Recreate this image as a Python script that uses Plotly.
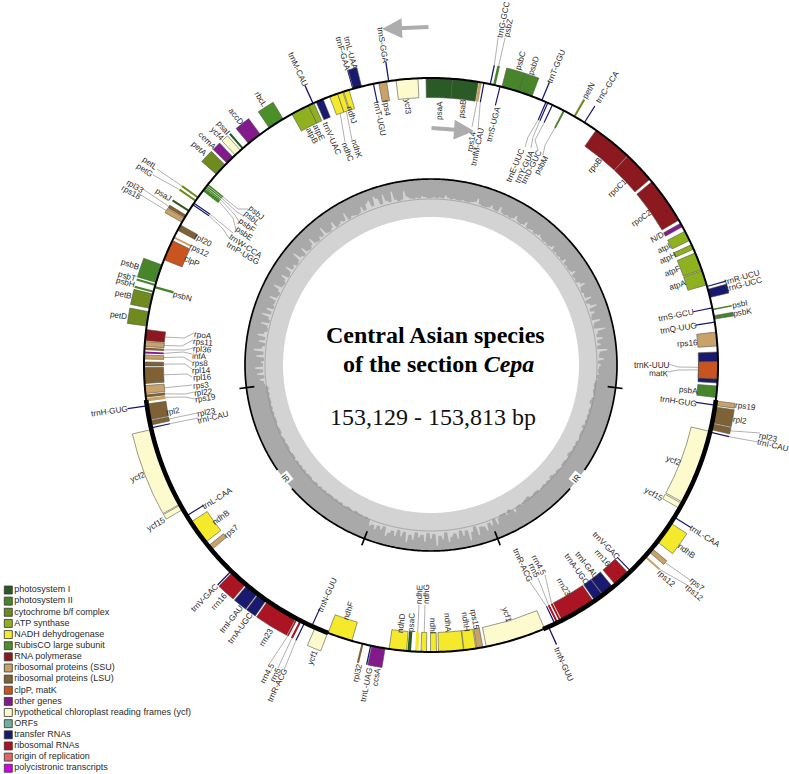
import math
import numpy as np
import plotly.graph_objects as go

W, H = 789, 774
CX, CY = 431, 365
R_MAP, R_GC, R_MID, R_HOLE = 287, 186, 166, 148
GENE_H = 19.5

# ---------- data: gene positions on the map, in degrees clockwise from the top ----------
psI_names = ["psaA", "psaB", "psaC", "psaI", "psaJ"]
psI_start = [-1.0, 4.3, 184.0, 318.8, 302.3]
psI_end = [4.3, 9.5, 184.7, 319.2, 302.7]
psI_side = [-1, -1, -1, 1, 1]

psII_names = ["psbC", "psbD", "psbZ", "psbM", "psbI", "psbK", "psbA", "psbB", "psbT", "psbH", "psbN", "psbE", "psbF", "psbL", "psbJ"]
psII_start = [14.3, 17.8, 12.5, 27.4, 78.7, 80.1, 94.2, 286.7, 286.0, 284.6, 285.5, 307.3, 308.05, 308.4, 308.8]
psII_end = [17.8, 20.6, 13.0, 27.8, 79.0, 80.8, 96.5, 290.4, 286.4, 285.0, 286.0, 308.0, 308.3, 308.7, 309.1]
psII_side = [1, 1, 1, -1, 1, 1, -1, 1, 1, 1, -1, -1, -1, -1, -1]

cyt_names = ["petD", "petB", "petA", "petN", "petG", "petL"]
cyt_start = [277.8, 281.4, 311.6, 29.8, 304.7, 305.5]
cyt_end = [280.7, 284.3, 314.2, 30.2, 305.1, 305.9]
cyt_side = [1, 1, 1, 1, 1, 1]

atp_names = ["atpB", "atpE", "atpI", "atpH", "atpF", "atpA"]
atp_start = [331.0, 334.7, 62.2, 65.2, 67.0, 70.8]
atp_end = [334.7, 335.9, 64.3, 66.2, 70.6, 73.8]
atp_side = [-1, -1, -1, -1, -1, -1]

ndh_names = ["ndhB", "ndhB", "ndhF", "ndhD", "ndhE", "ndhG", "ndhI", "ndhA", "ndhH", "ndhC", "ndhK", "ndhJ"]
ndh_start = [123.4, 231.8, 196.0, 184.9, 182.5, 180.9, 178.9, 173.5, 171.0, 339.3, 341.0, 342.3]
ndh_end = [128.0, 236.8, 201.0, 188.4, 183.2, 182.0, 180.1, 178.5, 173.4, 341.0, 342.1, 343.4]
ndh_side = [1, -1, -1, -1, -1, -1, -1, -1, -1, -1, -1, -1]

rbc_names = ["rbcL"]
rbc_start = [325.7]
rbc_end = [329.0]
rbc_side = [1]

rpo_names = ["rpoB", "rpoC1", "rpoC2", "rpoA"]
rpo_start = [35.1, 43.3, 50.3, 274.9]
rpo_end = [43.2, 49.7, 59.7, 277.1]
rpo_side = [-1, -1, -1, -1]

ssu_names = ["rps4", "rps14", "rps16", "rps19", "rps19", "rps7", "rps12", "rps7", "rps15", "rps11", "rps8", "rps3", "rps12", "rps18"]
ssu_start = [349.5, 9.6, 83.4, 97.2, 262.7, 129.7, 131.6, 229.9, 169.6, 273.7, 271.2, 264.3, 296.2, 299.8]
ssu_end = [351.1, 10.2, 86.2, 98.1, 263.4, 130.6, 132.0, 230.9, 170.8, 274.7, 272.0, 265.9, 296.6, 300.7]
ssu_side = [-1, -1, -1, 1, -1, 1, 1, -1, -1, -1, -1, -1, -1, 1]

lsu_names = ["rpl2", "rpl23", "rpl2", "rpl23", "rpl22", "rpl16", "rpl14", "rpl36", "rpl20", "rpl33", "rpl32"]
lsu_start = [98.4, 101.8, 259.0, 257.9, 263.5, 266.3, 269.8, 273.0, 298.0, 300.8, 193.6]
lsu_end = [101.6, 103.0, 262.2, 258.8, 264.1, 269.5, 270.6, 273.5, 299.2, 301.5, 194.0]
lsu_side = [1, 1, -1, -1, -1, -1, -1, -1, -1, 1, 1]

clp_names = ["clpP", "matK"]
clp_start = [291.5, 89.3]
clp_end = [295.7, 92.8]
clp_side = [-1, -1]

other_names = ["ccsA", "accD", "cemA", "infA", "N/D"]
other_start = [189.2, 320.5, 314.7, 272.3, 60.4]
other_end = [191.9, 323.5, 316.4, 272.7, 61.2]
other_side = [1, 1, 1, -1, -1]

ycf_names = ["ycf3", "ycf4", "ycf2", "ycf15", "ycf1", "ycf1", "ycf2", "ycf15"]
ycf_start = [353.0, 317.0, 103.4, 118.9, 156.7, 201.1, 241.0, 239.8]
ycf_end = [357.4, 318.4, 118.6, 120.0, 168.9, 203.8, 257.0, 240.8]
ycf_side = [-1, 1, -1, -1, -1, 1, 1, 1]

trna_names = ["trnfM-CAU", "trnS-UGA", "trnG-GCC", "trnT-GGU", "trnE-UUC", "trnY-GUA", "trnD-GUC", "trnC-GCA",
              "trnR-UCU", "trnG-UCC", "trnS-GCU", "trnQ-UUG", "trnK-UUU", "trnH-GUG", "trnI-CAU", "trnL-CAA",
              "trnV-GAC", "trnI-GAU", "trnA-UGC", "trnR-ACG", "trnN-GUU", "trnL-UAG", "trnN-GUU", "trnR-ACG",
              "trnA-UGC", "trnI-GAU", "trnV-GAC", "trnL-CAA", "trnI-CAU", "trnH-GUG", "trnP-UGG", "trnW-CCA",
              "trnM-CAU", "trnV-UAC", "trnF-GAA", "trnL-UAA", "trnT-UGU", "trnS-GGA"]
trna_start = [10.5, 13.8, 11.8, 22.6, 23.5, 23.9, 24.9, 32.2, 74.0, 74.7, 78.4, 81.3, 87.4, 97.9, 103.4, 121.9,
              135.8, 140.7, 143.3, 154.3, 155.7, 192.0, 204.4, 206.0, 215.0, 217.2, 224.0, 238.2, 257.2, 261.7,
              303.8, 304.2, 335.6, 336.4, 344.1, 344.3, 348.3, 351.4]
trna_end = [10.75, 14.05, 12.05, 22.85, 23.75, 24.15, 25.15, 32.45, 74.25, 76.4, 78.65, 81.55, 93.6, 98.15, 103.65, 122.15,
            136.05, 143.2, 145.2, 154.55, 155.95, 192.25, 204.65, 206.25, 217.0, 219.9, 224.25, 238.45, 257.45, 261.95,
            304.05, 304.45, 335.85, 337.9, 344.3, 346.0, 348.55, 351.65]
trna_side = [-1, -1, 1, 1, -1, -1, -1, 1, 1, 1, -1, -1, -1, -1, 1, 1,
             -1, -1, -1, -1, 1, 1, -1, 1, 1, 1, 1, -1, -1, 1, -1, -1, 1, -1, 1, 1, -1, 1]

rrna_names = ["rrn16", "rrn23", "rrn4.5", "rrn5", "rrn5", "rrn4.5", "rrn23", "rrn16"]
rrna_start = [136.5, 145.5, 153.0, 153.7, 206.8, 207.7, 208.1, 220.2]
rrna_end = [140.0, 152.8, 153.4, 154.1, 207.2, 208.0, 214.7, 223.8]
rrna_side = [-1, -1, -1, -1, 1, 1, 1, 1]

# GC content: inner edge of the dark band round the ring
gc_edge = [
    167,168,167,168,167,170,168,167,168,167,167,168,167,167,168,169,173,168,167,167,168,171,168,167,173,168,167,168,167,168,
    172,168,167,168,172,167,168,169,167,168,170,168,167,168,167,168,171,167,168,167,168,167,171,167,168,167,168,172,167,168,
    167,170,174,168,167,169,168,174,167,170,176,168,172,168,167,175,168,167,178,170,168,174,168,171,167,177,169,168,173,167,170,168,167,168,166,167,165,
    164,165,164,165,166,164,163,165,165,164,165,164,165,164,165,163,165,164,164,165,166,164,165,164,165,164,163,165,165,164,164,166,165,164,165,164,163,165,164,165,164,165,166,164,164,165,165,163,164,165,167,165,166,170,166,164,168,165,165,167,173,166,
    172,168,175,170,169,177,167,172,180,169,174,168,176,170,173,178,168,175,171,181,169,174,168,177,170,173,168,176,171,179,169,174,168,175,170,173,177,168,172,169,174,170,
    172,166,165,166,165,165,164,166,165,164,165,166,164,165,164,165,164,164,165,164,165,164,166,164,165,165,164,164,165,164,165,164,165,164,166,164,164,165,165,164,164,165,164,165,166,164,164,165,165,164,164,165,164,165,164,165,164,164,165,164,165,164,
    167,168,172,167,174,168,176,168,170,167,175,168,178,170,167,174,168,176,170,167,168,175,167,169,177,168,174,167,169,168,175,168,167,170,176,168,167,169,174,167,168,175,168,170,167,168,177,169,167,174,168,167,169,175,168,167,170,168,176,168,167,169,174,167,168,170,168,175,167,169,168,167,168,173,168,174,176,169,178,175,168,177,170,168,178,169,167,168,176,170,168,167,168,167,169,168,167,
]

ir_boundaries = [97, 159, 201, 263]
ir_label_angles = [128, 232]

legend_labels = ["photosystem I", "photosystem II", "cytochrome b/f complex", "ATP synthase", "NADH dehydrogenase",
                 "RubisCO large subunit", "RNA polymerase", "ribosomal proteins (SSU)", "ribosomal proteins (LSU)",
                 "clpP, matK", "other genes", "hypothetical chloroplast reading frames (ycf)", "ORFs", "transfer RNAs",
                 "ribosomal RNAs", "origin of replication", "polycistronic transcripts"]
legend_colors = ["#2a5a25", "#47852a", "#6f8a1e", "#8fb11f", "#f5e92c", "#4a8f2a", "#8c1820", "#c9a269", "#7f6136",
                 "#c8541f", "#821a8c", "#fdfbcd", "#6fae9c", "#191970", "#ab1423", "#d9686a", "#d600e6"]

# ---------- layout tables: where the gene names sit on the page ----------
LABELS = [
    ("trnM-CAU",298,69),("trnL-UAA",351,53),("trnF-GAA",343,53),("trnS-GGA",383,45),("trnG-GCC",503,20),("psbZ",508,28),
    ("psbC",520,61),("psbD",533,66),("trnT-GGU",556,66),("atpB",312,135),("atpE",319,132),("trnV-UAC",332,138),
    ("ndhC",348,152),("ndhK",357,149),("ndhJ",352,115),("trnT-UGU",380,118),("rps4",387,108),("ycf3",408,106),
    ("psaA",439,111),("psaB",462,109),("rps14",471,142),("trnfM-CAU",477,147),("trnS-UGA",493,124),
    ("trnE-UUC",515,165),("trnY-GUA",524,167),("trnD-GUC",531,167),("psbM",541,165),
    ("petN",588,91),("trnC-GCA",607,87),("rpoB",595,165),("rpoC1",617,188),("rpoC2",641,218),("N/D",657,237),
    ("atpI",664,248),("atpH",667,258),("atpF",672,271),("atpA",677,285),("trnR-UCU",742,277),("trnG-UCC",744,284),
    ("trnS-GCU",676,315),("psbI",739,304),("psbK",742,312),("trnQ-UUG",678,328),("rps16",687,343),
    ("trnK-UUU",652,365),("matK",659,373),("psbA",688,390),("trnH-GUG",678,401),("rps19",745,406),("rpl2",740,420),
    ("rpl23",768,437),("trnI-CAU",773,445),("ycf2",673,460),("ycf15",654,494),("trnL-CAA",705,536),("ndhB",687,551),
    ("rps7",697,584),("rps12",694,592),("rps12",666,578),("trnV-GAC",606,545),("rrn16",603,558),("trnI-GAU",587,565),
    ("trnA-UGC",577,569),("rrn23",564,587),("rrn4.5",539,565),("rrn5",534,570),("trnR-ACG",523,565),("ycf1",507,614),
    ("rps15",475,619),("ndhH",466,622),("ndhA",448,623),("ndhI",433,626),("ndhG",426,594),("ndhE",419,594),
    ("psaC",411,623),("ndhD",401,623),("trnN-GUU",564,664),("ccsA",376,677),("trnL-UAG",366,685),("rpl32",357,673),
    ("ndhF",348,611),("ycf1",312,658),("trnN-GUU",327,595),("rrn4.5",267,673),("rrn5",275,675),("trnR-ACG",277,685),
    ("rrn23",266,637),("trnA-UGC",240,628),("trnI-GAU",231,619),("rrn16",219,601),("trnV-GAC",204,598),("rps7",231,531),
    ("ndhB",221,517),("trnL-CAA",217,498),("ycf15",156,524),("ycf2",137,477),("trnI-CAU",213,417),("rpl23",206,412),
    ("rpl2",173,411),("trnH-GUG",109,411),("rps19",205,398),("rpl22",203,392),("rps3",201,385),("rpl16",202,377),
    ("rpl14",201,370),("rps8",200,363),("infA",199,356),("rpl36",202,349),("rps11",203,342),("rpoA",203,335),
    ("petD",118,315),("petB",123,294),("psbH",125,282),("psbT",127,276),("psbB",130,264),("psbN",182,296),
    ("clpP",192,261),("rps12",199,250),("rpl20",203,240),("trnP-UGG",243,253),("trnW-CCA",246,246),("psbE",244,233),
    ("psbF",247,225),("psbL",252,218),("psbJ",256,212),("psaJ",163,194),("rps18",131,192),("rpl33",135,186),
    ("petG",145,170),("petL",150,163),("petA",199,148),("cemA",207,140),("ycf4",217,133),("psaI",223,127),
    ("accD",236,116),("rbcL",261,99),
]

LEADERS = [
    ("rps14",0,[(472,127)]),("trnfM-CAU",0,[(478,130)]),("trnG-GCC",0,[(498,38)]),("psbZ",0,[(505,38)]),
    ("trnE-UUC",0,[(528,137),(525,147)]),("trnY-GUA",0,[(533,137),(531,148)]),("trnD-GUC",0,[(535,140),(538,150)]),
    ("psbM",0,[(545,145),(543,155)]),("ndhK",0,[(352,140)]),("ndhC",0,[(345,142)]),
    ("trnK-UUU",0,[(678,367),(669,364)]),("matK",0,[(678,370),(668,372)]),("rpl23",0,[(760,433)]),("trnI-CAU",0,[(758,442)]),
    ("rps7",0,[(690,580)]),("rps12",0,[(687,585)]),
    ("trnR-ACG",0,[(530,582)]),("rrn5",0,[(538,578)]),("rrn4.5",0,[(545,575)]),("ndhE",0,[(419,605)]),("ndhG",0,[(425,605)]),
    ("rrn4.5",1,[(270,663)]),("rrn5",1,[(278,668)]),("trnR-ACG",1,[(284,670)]),
    ("rpoA",0,[(184,338),(194,333)]),("rps11",0,[(182,346),(193,340)]),("rpl36",0,[(185,350),(193,348)]),
    ("infA",0,[(183,352),(192,354)]),("rps8",0,[(183,357),(192,362)]),("rpl14",0,[(185,364),(192,369)]),
    ("rpl16",0,[(187,374),(192,377)]),("rps3",0,[(192,385)]),("rpl22",0,[(185,394),(194,392)]),("rps19",1,[(185,397),(195,399)]),
    ("rpl23",1,[(197,413)]),("trnI-CAU",1,[(198,418)]),
    ("psbJ",0,[(238,209),(248,209)]),("psbL",0,[(237,212),(244,216)]),("psbF",0,[(235,215),(240,223)]),("psbE",0,[(233,218),(236,230)]),
    ("trnW-CCA",0,[(225,227),(233,233)]),("trnP-UGG",0,[(223,229),(229,238)]),
    ("petL",0,[(157,169)]),("petG",0,[(153,175)]),("rpl33",0,[(143,189)]),("rps18",0,[(141,195)]),
]

groups = [
    (psI_names, psI_start, psI_end, psI_side, 0), (psII_names, psII_start, psII_end, psII_side, 1),
    (cyt_names, cyt_start, cyt_end, cyt_side, 2), (atp_names, atp_start, atp_end, atp_side, 3),
    (ndh_names, ndh_start, ndh_end, ndh_side, 4), (rbc_names, rbc_start, rbc_end, rbc_side, 5),
    (rpo_names, rpo_start, rpo_end, rpo_side, 6), (ssu_names, ssu_start, ssu_end, ssu_side, 7),
    (lsu_names, lsu_start, lsu_end, lsu_side, 8), (other_names, other_start, other_end, other_side, 10),
    (ycf_names, ycf_start, ycf_end, ycf_side, 11), (trna_names, trna_start, trna_end, trna_side, 13),
    (clp_names, clp_start, clp_end, clp_side, 9), (rrna_names, rrna_start, rrna_end, rrna_side, 14),
]

fig = go.Figure()
angles = np.linspace(0, 360, 721)


def ring(r, color, width, start=0.0, stop=360.0):
    th = np.linspace(start, stop, max(int(abs(stop - start) * 2), 2))
    fig.add_trace(go.Scatterpolar(r=[r] * len(th), theta=th, mode="lines", subplot="polar",
                                  line=dict(color=color, width=width), hoverinfo="skip", showlegend=False))


def disc(r_values, theta_values, color):
    fig.add_trace(go.Scatterpolar(r=r_values, theta=theta_values, mode="lines", fill="toself", fillcolor=color,
                                  line=dict(width=0, color=color), subplot="polar", hoverinfo="skip", showlegend=False))


# GC ring: dark disc, light disc with a histogram-like edge, white hole
disc([R_GC] * len(angles), angles, "#a9a9a9")
step = 360 / len(gc_edge)
gc_r, gc_t = [], []
for i, v in enumerate(gc_edge):
    nxt = gc_edge[(i + 1) % len(gc_edge)]
    t = i * step
    gc_r += [v, v, min(v, nxt)]
    gc_t += [t - 0.2 * step, t + 0.2 * step, t + 0.5 * step]
disc(gc_r + gc_r[:1], gc_t + gc_t[:1], "#d3d3d3")
disc([R_HOLE] * len(angles), angles, "#ffffff")
ring(R_MID, "#8c8c8c", 0.6)

# inner black ring with gaps for the IR labels, and quadrant ticks
gap = 3.6
edges = sorted(a + s * gap for a in ir_label_angles for s in (-1, 1))
ring(R_GC, "#000000", 1.7, edges[1], edges[2])
ring(R_GC, "#000000", 1.7, edges[3], 360 + edges[0])
for a in ir_boundaries:
    fig.add_trace(go.Scatterpolar(r=[R_GC - 8, R_GC + 7], theta=[a, a], mode="lines", subplot="polar",
                                  line=dict(color="#000000", width=1.7), hoverinfo="skip", showlegend=False))

# gene blocks
index = {}
for names, starts, ends, sides, g in groups:
    mids, widths, bases, lw = [], [], [], []
    for n, s, e, sd in zip(names, starts, ends, sides):
        index.setdefault(n, []).append(((s + e) / 2, sd))
        mids.append((s + e) / 2 % 360)
        widths.append(e - s)
        bases.append(R_MAP if sd > 0 else R_MAP - GENE_H)
        lw.append(0.6 if e - s > 0.7 else 0)
    fig.add_trace(go.Barpolar(r=[GENE_H] * len(mids), base=bases, theta=mids, width=widths, subplot="polar",
                              marker=dict(color=legend_colors[g], line=dict(color="#55554a", width=lw)),
                              text=names, hoverinfo="text", showlegend=False))

# genome circle, thicker along the inverted repeats
ring(R_MAP, "#000000", 2.0)
ring(R_MAP, "#000000", 4.6, ir_boundaries[0], ir_boundaries[1] - 2)
ring(R_MAP, "#000000", 4.6, ir_boundaries[2], ir_boundaries[3])


def to_px(theta, r):
    t = math.radians(theta)
    return CX + r * math.sin(t), CY - r * math.cos(t)


# leader lines
lx, ly = [], []
for name, occ, tail in LEADERS:
    th, sd = index[name][occ]
    x0, y0 = to_px(th, R_MAP + sd * GENE_H)
    lx += [x0] + [p[0] for p in tail] + [None]
    ly += [y0] + [p[1] for p in tail] + [None]
fig.add_trace(go.Scatter(x=lx, y=ly, mode="lines", line=dict(color="#8f8f8f", width=0.7), hoverinfo="skip",
                         showlegend=False, xaxis="x", yaxis="y"))

# legend, drawn as square markers and text
leg_y = [590 + i * 11.14 for i in range(len(legend_labels))]
fig.add_trace(go.Scatter(x=[8.3] * len(leg_y), y=leg_y, mode="markers+text", text=legend_labels,
                         textposition="middle right",
                         textfont=dict(family="Liberation Sans", size=9, color="#2a2a2a"),
                         marker=dict(symbol="square", size=8, color=legend_colors, line=dict(color="#333333", width=0.8)),
                         hoverinfo="skip", showlegend=False, xaxis="x", yaxis="y"))

annotations = []
for text, x, y in LABELS:
    th = math.degrees(math.atan2(x - CX, CY - y)) % 360
    ang = th - 90 if th < 180 else th - 270
    annotations.append(dict(x=x, y=y, xref="x", yref="y", text=text, showarrow=False, textangle=ang,
                            xanchor="center", yanchor="middle",
                            font=dict(family="Liberation Sans", size=8.2, color="#2a2a2a")))

for a in ir_label_angles:
    x, y = to_px(a, R_GC - 1)
    annotations.append(dict(x=x, y=y, xref="x", yref="y", text="IR", showarrow=False, textangle=a - 180,
                            bgcolor="#ffffff", borderpad=1,
                            font=dict(family="Liberation Sans", size=8, color="#222222")))

serif = "Liberation Serif"
annotations += [
    dict(x=435.5, y=335, xref="x", yref="y", text="<b>Central Asian species</b>", showarrow=False,
         font=dict(family=serif, size=24, color="#000000")),
    dict(x=438, y=364, xref="x", yref="y", text="<b>of the section <i>Cepa</i></b>", showarrow=False,
         font=dict(family=serif, size=24, color="#000000")),
    dict(x=433, y=417, xref="x", yref="y", text="153,129 - 153,813 bp", showarrow=False,
         font=dict(family=serif, size=24, color="#111111")),
    dict(x=382, y=29, ax=430, ay=27, xref="x", yref="y", axref="x", ayref="y", text="", showarrow=True,
         arrowhead=2, arrowsize=1, arrowwidth=4, arrowcolor="#adadad"),
    dict(x=474, y=131, ax=430, ay=128, xref="x", yref="y", axref="x", ayref="y", text="", showarrow=True,
         arrowhead=2, arrowsize=1, arrowwidth=4, arrowcolor="#adadad"),
]

RADIUS_PX = 358
fig.update_layout(
    width=W, height=H, margin=dict(l=0, r=0, t=0, b=0), paper_bgcolor="#ffffff", plot_bgcolor="rgba(0,0,0,0)",
    showlegend=False, annotations=annotations,
    xaxis=dict(range=[0, W], domain=[0, 1], visible=False, fixedrange=True),
    yaxis=dict(range=[H, 0], domain=[0, 1], visible=False, fixedrange=True),
    polar=dict(
        domain=dict(x=[(CX - RADIUS_PX) / W, (CX + RADIUS_PX) / W],
                    y=[(H - CY - RADIUS_PX) / H, (H - CY + RADIUS_PX) / H]),
        bgcolor="rgba(0,0,0,0)",
        barmode="overlay",
        radialaxis=dict(range=[0, RADIUS_PX], visible=False, showgrid=False),
        angularaxis=dict(direction="clockwise", rotation=90, visible=False, showgrid=False),
    ),
)
fig.write_html("out.html", config={"displayModeBar": False},
               post_script="document.body.style.margin='0';document.documentElement.style.overflow='hidden';")
